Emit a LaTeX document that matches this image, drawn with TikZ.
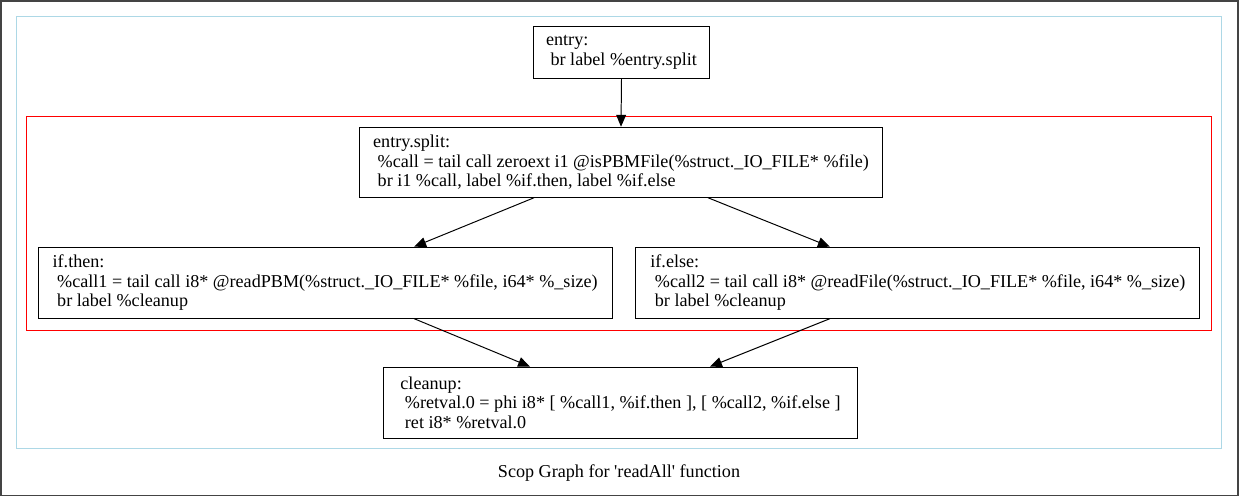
\documentclass[tikz,border=0pt]{standalone}
\usepackage{fontspec}
\setmainfont{Liberation Serif}[Ligatures=TeXOff]
\usetikzlibrary{arrows.meta}
\definecolor{framegray}{HTML}{444444}
\definecolor{regionblue}{HTML}{ADD8E6}
\tikzset{
  block/.style={draw, line width=0.7pt, inner xsep=0.25cm, inner ysep=0pt, align=left,
    font=\fontsize{12.9}{13.7}\selectfont},
  flow/.style={-{Triangle[length=8.5pt,width=7pt]}, line width=0.7pt},
}
\begin{document}
\begin{tikzpicture}[x=0.025cm,y=-0.025cm]
        \draw[framegray,line width=1.2pt] (0.5,0.5) rectangle (1238.5,495.5);
        \draw[regionblue,line width=0.8pt] (16,16) rectangle (1222,448);
        \draw[red,line width=0.8pt] (26,116) rectangle (1212,330);

        \node[block, minimum width=4.425cm, minimum height=1.3cm] (entry) at (621.5,52)
                {entry:\\~br label \%entry.split};
        \node[block, minimum width=13.1cm, minimum height=1.75cm] (split) at (621,162)
                {entry.split:\\~\%call = tail call zeroext i1 @isPBMFile(\%struct.\_IO\_FILE* \%file)\\~br i1 \%call, label \%if.then, label \%if.else};
        \node[block, minimum width=14.35cm, minimum height=1.775cm] (then) at (325,282.5)
                {if.then:\\~\%call1 = tail call i8* @readPBM(\%struct.\_IO\_FILE* \%file, i64* \%\_size)\\~br label \%cleanup};
        \node[block, minimum width=14.1cm, minimum height=1.775cm] (else) at (918,282.5)
                {if.else:\\~\%call2 = tail call i8* @readFile(\%struct.\_IO\_FILE* \%file, i64* \%\_size)\\~br label \%cleanup};
        \node[block, minimum width=11.875cm, minimum height=1.775cm] (cleanup) at (620.5,402.5)
                {cleanup:\\~\%retval.0 = phi i8* [ \%call1, \%if.then ], [ \%call2, \%if.else ]\\~ret i8* \%retval.0};
        \node[font=\fontsize{12.9}{14}\selectfont] (title) at (619,473) {Scop Graph for 'readAll' function};

        \draw[flow] (entry.south) -- (split.north);
        \draw[flow] (split.south -| 534,0) -- (then.north -| 414,0);
        \draw[flow] (split.south -| 708,0) -- (else.north -| 830,0);
        \draw[flow] (then.south -| 414,0) -- (cleanup.north -| 530,0);
        \draw[flow] (else.south -| 830,0) -- (cleanup.north -| 710,0);
\end{tikzpicture}
\end{document}
